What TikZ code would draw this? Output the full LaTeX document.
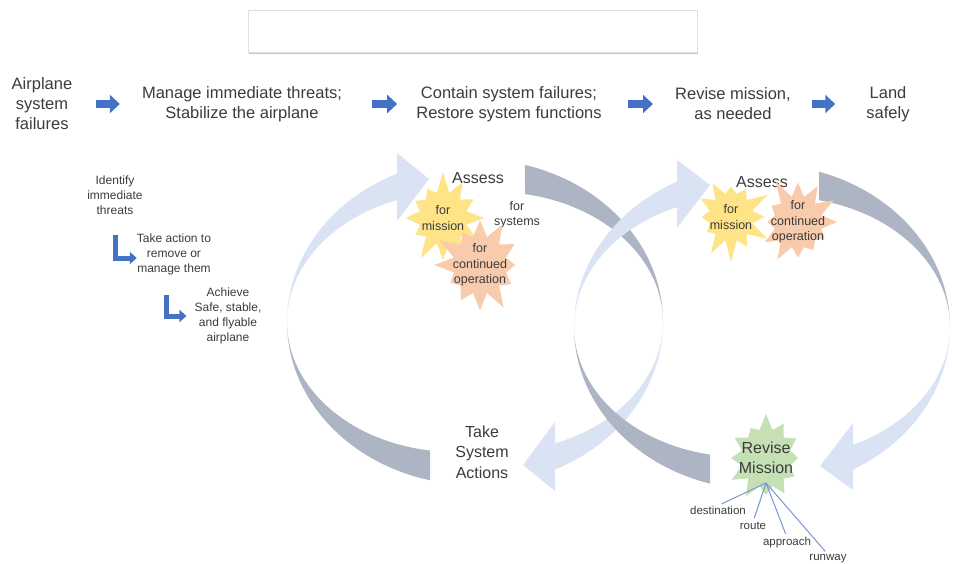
\documentclass[tikz,border=0pt]{standalone}
\usepackage{fontspec}
\setmainfont{Liberation Sans}
\usetikzlibrary{arrows.meta}
\usetikzlibrary{shapes.symbols}
\usetikzlibrary{shadows}

\definecolor{textgray}{RGB}{60,60,60}
\definecolor{flowblue}{RGB}{68,114,196}
\definecolor{bandfront}{RGB}{218,227,243}
\definecolor{bandback}{RGB}{173,181,197}
\definecolor{staryellow}{RGB}{255,228,135}
\definecolor{starorange}{RGB}{248,203,173}
\definecolor{stargreen}{RGB}{197,224,180}
\definecolor{spokeblue}{RGB}{120,150,212}

\begin{document}
\begin{tikzpicture}[x=1pt,y=-1pt,every node/.style={text=textgray,align=center,inner sep=0pt},
  top node/.style={font=\fontsize{16.5}{20}\selectfont},
  step node/.style={font=\fontsize{12}{15}\selectfont},
  loop node/.style={font=\fontsize{16}{20.5}\selectfont},
  small node/.style={font=\fontsize{12.5}{15.5}\selectfont},
  spoke label/.style={font=\fontsize{11.5}{14}\selectfont},
  star node/.style={starburst,starburst points=12,starburst point height=22pt,inner sep=-18pt,font=\fontsize{12.5}{15.5}\selectfont},
  front band/.style={fill=bandfront},
  back band/.style={fill=bandback},
  flow arrow/.style={draw=flowblue,line width=8.5pt,-{Triangle[length=10pt,width=18pt]}},
  elbow arrow/.style={draw=flowblue,line width=5pt,line join=miter,-{Triangle[length=7pt,width=12pt]}},
  spoke/.style={draw=spokeblue,line width=1pt,shorten >=4pt}]
  \useasboundingbox[fill=white] (0,0) rectangle (953,564);

  \node[draw=black!12,fill=white,minimum width=449pt,minimum height=42pt,drop shadow={shadow xshift=0.5pt,shadow yshift=-2pt,fill=black!45,opacity=.5}] (title) at (472.5,31) {};

  \node[top node] (failures) at (42,104) {Airplane\\system\\failures};
  \node[top node] (manage) at (242,104) {Manage immediate threats;\\Stabilize the airplane};
  \node[top node] (contain) at (509,104) {Contain system failures;\\Restore system functions};
  \node[top node] (revise) at (733,104) {Revise mission,\\as needed};
  \node[top node] (land) at (888,104) {Land\\safely};

  \draw[flow arrow,shorten <=24pt,shorten >=22pt] (failures) -- (manage);
  \draw[flow arrow,shorten <=30pt,shorten >=19pt] (manage) -- (contain);
  \draw[flow arrow,shorten <=26pt,shorten >=22pt] (contain) -- (revise);
  \draw[flow arrow,shorten <=21pt,shorten >=31pt] (revise) -- (land);

  \node[step node] (identify) at (115,195) {Identify\\immediate\\threats};
  \node[step node] (remove) at (174,254) {Take action to\\remove or\\manage them};
  \node[step node] (achieve) at (228,316) {Achieve\\Safe, stable,\\and flyable\\airplane};

  \draw[elbow arrow,shorten <=20pt] (identify) |- ([yshift=-4pt]remove.west);
  \draw[elbow arrow,shorten <=20pt,shorten >=8pt] ([xshift=-8pt]remove.south) |- (achieve);

  \fill[back band] (475,322) ++(103.85:188 and 163) arc[start angle=103.85,end angle=180,x radius=188,y radius=163] arc[start angle=180,end angle=98.56,x radius=168,y radius=130] -- cycle;
  \fill[front band] (287,322) arc[start angle=180,end angle=245.49,x radius=188,y radius=163] -- (397,153) -- (429,179) -- (397,221) -- (397,200) arc[start angle=249.8,end angle=180,x radius=168,y radius=130] -- cycle;
  \fill[back band] (475,322) ++(285.42:188 and 163) arc[start angle=285.42,end angle=360,x radius=188,y radius=163] arc[start angle=360,end angle=280.29,x radius=168,y radius=130] -- cycle;
  \fill[front band] (663,322) arc[start angle=0,end angle=64.82,x radius=188,y radius=163] -- (555,491) -- (523,465) -- (555,422) -- (555,443.4) arc[start angle=69.08,end angle=0,x radius=168,y radius=130] -- cycle;

  \fill[back band] (762,327) ++(106.06:188 and 163) arc[start angle=106.06,end angle=180,x radius=188,y radius=163] arc[start angle=180,end angle=100.98,x radius=168,y radius=130] -- cycle;
  \fill[front band] (574,327) arc[start angle=180,end angle=243.12,x radius=188,y radius=163] -- (677,160) -- (710,185) -- (677,228) -- (677,207.1) arc[start angle=247.24,end angle=180,x radius=168,y radius=130] -- cycle;
  \fill[back band] (762,327) ++(287.65:188 and 163) arc[start angle=287.65,end angle=360,x radius=188,y radius=163] arc[start angle=360,end angle=282.72,x radius=168,y radius=130] -- cycle;
  \fill[front band] (950,327) arc[start angle=0,end angle=61.05,x radius=188,y radius=163] -- (853,490) -- (820,466) -- (853,423) -- (853,444.8) arc[start angle=65,end angle=0,x radius=168,y radius=130] -- cycle;

  \node[loop node] (assessA) at (478,178) {Assess};
  \node[star node,fill=staryellow,minimum width=92pt,minimum height=96pt,random starburst=7] (missionA) at (443,218) {for\\mission};
  \node[small node] (systems) at (517,215) {for\\systems};
  \node[star node,fill=starorange,minimum width=98pt,minimum height=102pt,random starburst=21] (operationA) at (480,265) {for\\continued\\operation};
  \node[loop node] (actions) at (482,452) {Take\\System\\Actions};

  \node[loop node] (assessB) at (762,182) {Assess};
  \node[star node,fill=staryellow,minimum width=88pt,minimum height=92pt,random starburst=13] (missionB) at (731,217) {for\\mission};
  \node[star node,fill=starorange,minimum width=92pt,minimum height=96pt,random starburst=5] (operationB) at (798,222) {for\\continued\\operation};
  \node[star node,fill=stargreen,font=\fontsize{16}{20}\selectfont,minimum width=94pt,minimum height=102pt,random starburst=31] (reviseMission) at (766,458) {Revise\\Mission};

  \coordinate (hub) at (766,483);
  \node[spoke label] (destination) at (718,510) {destination};
  \node[spoke label] (route) at (753,526) {route};
  \node[spoke label] (approach) at (787,543) {approach};
  \node[spoke label] (runway) at (828,559) {runway};
  \draw[spoke] (hub) -- (destination.north);
  \draw[spoke] (hub) -- (route.north);
  \draw[spoke] (hub) -- (approach.north);
  \draw[spoke] (hub) -- (runway.north);
\end{tikzpicture}
\end{document}
